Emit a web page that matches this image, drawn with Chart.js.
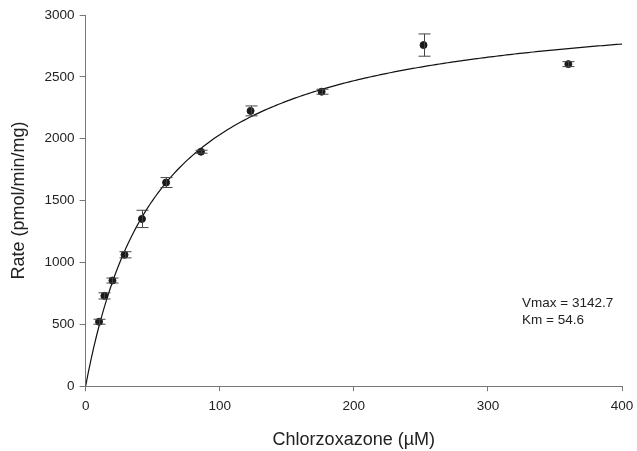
<!DOCTYPE html>
<html>
<head>
<meta charset="utf-8">
<script src="https://cdn.jsdelivr.net/npm/chart.js@4/dist/chart.umd.min.js"></script>
<style>
    html, body { margin: 0; padding: 0; background: #fff; }
    #wrap { width: 637px; height: 451px; }
</style>
</head>
<body>
<div id="wrap"><canvas id="mmChart"></canvas></div>
<script>
(function () {
    // measured rates at each substrate concentration
    const conc = [10, 14, 20, 29, 42, 60, 86, 123, 176, 252, 360];
    const rate = [521, 730, 854, 1062, 1352, 1646, 1895, 2225, 2380, 2757, 2603];
    const sem = [20, 25, 20, 25, 70, 40, 12, 40, 20, 90, 20];

    // Michaelis-Menten fit
    const vmax = 3142.7;
    const km = 54.6;

    const xTicks = [0, 100, 200, 300, 400];
    const yTicks = [0, 500, 1000, 1500, 2000, 2500, 3000];

    const fitX = [];
    for (let s = 0; s <= 400; s += 2) fitX.push(s);
    const fitLine = fitX.map((s) => ({ x: s, y: vmax * s / (km + s) }));

    const points = conc.map((c, i) => ({ x: c, y: rate[i] }));

    const font = "'Liberation Sans', Arial, sans-serif";

    const errorBars = {
        id: "errorBars",
        afterDatasetsDraw(chart) {
            const ctx = chart.ctx;
            const xs = chart.scales.x;
            const ys = chart.scales.y;
            ctx.save();
            ctx.strokeStyle = "#444";
            ctx.lineWidth = 1;
            conc.forEach((c, i) => {
                const px = Math.round(xs.getPixelForValue(c)) + 0.5;
                const top = ys.getPixelForValue(rate[i] + sem[i]);
                const bot = ys.getPixelForValue(rate[i] - sem[i]);
                ctx.beginPath();
                ctx.moveTo(px, top);
                ctx.lineTo(px, bot);
                ctx.moveTo(px - 6, top);
                ctx.lineTo(px + 6, top);
                ctx.moveTo(px - 6, bot);
                ctx.lineTo(px + 6, bot);
                ctx.stroke();
            });
            ctx.restore();
        }
    };

    const fitLabel = {
        id: "fitLabel",
        afterDraw(chart) {
            const ctx = chart.ctx;
            const xs = chart.scales.x;
            const ys = chart.scales.y;
            ctx.save();
            ctx.fillStyle = "#222";
            ctx.font = "13.5px " + font;
            ctx.textBaseline = "middle";
            const lx = xs.getPixelForValue(325.5);
            ctx.fillText("Vmax = " + vmax.toFixed(1), lx, ys.getPixelForValue(673));
            ctx.fillText("Km = " + km.toFixed(1), lx, ys.getPixelForValue(535));
            ctx.restore();
        }
    };

    new Chart(document.getElementById("mmChart").getContext("2d"), {
        type: "scatter",
        data: {
            datasets: [
                {
                    type: "line",
                    data: fitLine,
                    borderColor: "#111",
                    borderWidth: 1.2,
                    pointRadius: 0,
                    tension: 0,
                    fill: false,
                    order: 2,
                },
                {
                    data: points,
                    backgroundColor: "#1a1a1a",
                    borderColor: "#1a1a1a",
                    pointRadius: 3.5,
                    pointHoverRadius: 3.5,
                    order: 1,
                },
            ]
        },
        options: {
            animation: false,
            responsive: true,
            maintainAspectRatio: false,
            devicePixelRatio: 1,
            layout: {
                padding: { left: 8, right: 15, top: 15, bottom: 0 }
            },
            scales: {
                x: {
                    type: "linear",
                    min: 0,
                    max: 400,
                    afterBuildTicks: (axis) => {
                        axis.ticks = xTicks.map((v) => ({ value: v }));
                    },
                    // let the last tick label hang into the right padding
                    afterFit: (axis) => {
                        axis.paddingRight = 0;
                    },
                    grid: {
                        drawOnChartArea: false,
                        drawTicks: true,
                        tickLength: 5,
                        color: "#777",
                    },
                    border: { color: "#777", width: 1 },
                    ticks: {
                        color: "#222",
                        font: { family: font, size: 13.5 },
                        padding: 7,
                        maxRotation: 0,
                        callback: (v) => String(v),
                    },
                    title: {
                        display: true,
                        text: "Chlorzoxazone (\u00b5M)",
                        color: "#222",
                        font: { family: font, size: 18 },
                        padding: { top: 8, bottom: 0 },
                    }
                },
                y: {
                    type: "linear",
                    min: 0,
                    max: 3000,
                    afterBuildTicks: (axis) => {
                        axis.ticks = yTicks.map((v) => ({ value: v }));
                    },
                    grid: {
                        drawOnChartArea: false,
                        drawTicks: true,
                        tickLength: 6,
                        color: "#777",
                    },
                    border: { color: "#777", width: 1 },
                    ticks: {
                        color: "#222",
                        font: { family: font, size: 13.5 },
                        padding: 5,
                        callback: (v) => String(v),
                    },
                    title: {
                        display: true,
                        text: "Rate (pmol/min/mg)",
                        color: "#222",
                        font: { family: font, size: 18 },
                        padding: { top: 0, bottom: 10 },
                    }
                }
            },
            plugins: {
                legend: { display: false },
                tooltip: { enabled: false }
            }
        },
        plugins: [errorBars, fitLabel]
    });
})();
</script>
</body>
</html>
